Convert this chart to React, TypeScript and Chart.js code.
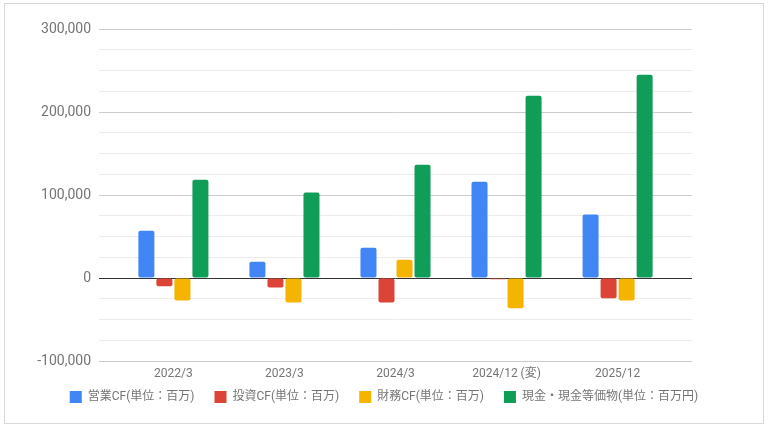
import { useEffect, useRef } from 'react'
import { Chart, registerables } from 'chart.js'

Chart.register(...registerables)

// periods on the x axis
const periods = ['2022/3', '2023/3', '2024/3', '2024/12 (変)', '2025/12']

// values in millions of yen
const operatingCF = [57000, 19500, 36500, 116000, 76500]
const investingCF = [-10000, -11500, -29500, -1500, -24500]
const financingCF = [-27000, -29500, 22000, -36500, -27000]
const cashEquiv = [118500, 103000, 136500, 219500, 245000]

const seriesNames = [
  '営業CF(単位：百万)',
  '投資CF(単位：百万)',
  '財務CF(単位：百万)',
  '現金・現金等価物(単位：百万円)',
]
const seriesColors = ['#4285F4', '#DB4437', '#F4B400', '#0F9D58']

const FONT = 'Roboto, "Noto Sans CJK JP", sans-serif'

// the x axis box is kept short so the legend sits close; let its labels spill below it
const unclipXLabels = {
  id: 'unclipXLabels',
  afterLayout(chart: any) {
    chart.scales.x.bottom = chart.height
  },
}

export default function App() {
  const canvasRef = useRef<HTMLCanvasElement | null>(null)

  useEffect(() => {
    document.body.style.margin = '0'
    if (!canvasRef.current) return
    const ctx = canvasRef.current.getContext('2d')
    if (!ctx) return

    const toPoints = (vals: number[]) => vals.map((v, i) => ({ x: i, y: v }))
    const allSeries = [operatingCF, investingCF, financingCF, cashEquiv]

    const chart = new Chart(ctx, {
      type: 'bar',
      data: {
        datasets: allSeries.map((vals, i) => ({
          label: seriesNames[i],
          data: toPoints(vals),
          backgroundColor: seriesColors[i],
          borderWidth: 0,
          borderRadius: 2,
          borderSkipped: false,
          categoryPercentage: 0.649,
          barPercentage: 0.889,
        })),
      },
      options: {
        animation: false,
        responsive: true,
        maintainAspectRatio: false,
        layout: { padding: { top: 29, right: 0, left: 0, bottom: 14 } },
        plugins: {
          tooltip: { enabled: false },
          legend: {
            position: 'bottom',
            labels: {
              boxWidth: 12,
              boxHeight: 12,
              padding: 20,
              color: '#757575',
              font: { family: FONT, size: 12 },
            },
          },
        },
        scales: {
          x: {
            type: 'linear',
            offset: false,
            min: -0.67,
            max: 4.67,
            grid: { display: false, drawTicks: false, offset: false },
            border: { display: false },
            afterBuildTicks: (scale: any) => {
              scale.ticks = periods.map((_, i) => ({ value: i }))
            },
            afterFit: (scale: any) => {
              scale.height = 10
            },
            ticks: {
              padding: 6,
              autoSkip: false,
              maxRotation: 0,
              color: '#757575',
              font: { family: FONT, size: 12 },
              callback: (v: any) => periods[v] ?? '',
            },
          },
          y: {
            min: -100000,
            max: 300000,
            afterFit: (scale: any) => {
              scale.width = 99
            },
            grid: {
              drawTicks: false,
              color: (c: any) => {
                const v = c.tick?.value
                if (v === 0) return '#333333'
                return v % 100000 === 0 ? '#cccccc' : '#ebebeb'
              },
            },
            border: { display: false },
            ticks: {
              stepSize: 25000,
              padding: 8,
              color: '#757575',
              font: { family: FONT, size: 14 },
              callback: (v: any) => (v % 100000 === 0 ? Number(v).toLocaleString('en-US') : ''),
            },
          },
          // empty right-hand axis that only reserves the blank margin
          yRight: {
            position: 'right',
            grid: { display: false, drawTicks: false },
            border: { display: false },
            ticks: { display: false },
            afterFit: (scale: any) => {
              scale.width = 76
            },
          },
        },
      },
      plugins: [unclipXLabels],
    })

    return () => chart.destroy()
  }, [])

  return (
    <div style={{ position: 'relative', width: 768, height: 427, background: '#fff' }}>
      <div
        style={{
          position: 'absolute',
          left: 4,
          top: 3,
          width: 760,
          height: 421,
          border: '1px solid #d9d9d9',
          boxSizing: 'border-box',
        }}
      />
      <canvas ref={canvasRef} style={{ position: 'absolute', left: 0, top: 0 }}></canvas>
    </div>
  )
}
